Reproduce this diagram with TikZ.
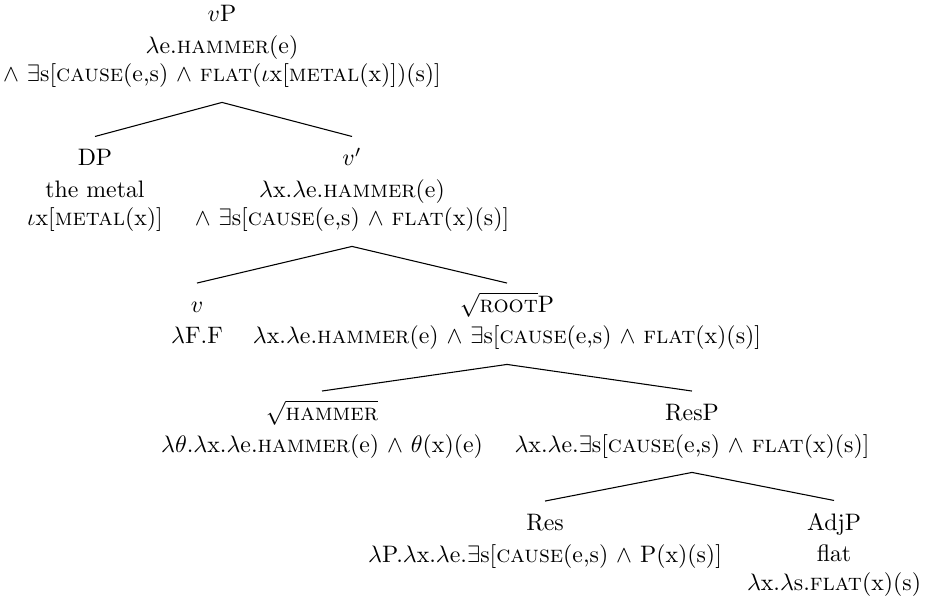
\documentclass[tikz,border=0pt]{standalone}
\usepackage{fontspec}
\usetikzlibrary{calc}
\newcommand{\lsc}[1]{\textsc{#1}}
% uniform height for the category line of every tree node
\newcommand{\cat}[1]{\vphantom{$\sqrt{\lsc{root}}$}#1}
\tikzset{
  tn/.style={anchor=base, align=center, inner sep=0pt, font=\fontsize{10}{12}\selectfont},
  branch/.style={line width=0.45pt},
}
\begin{document}
\begin{tikzpicture}[x=0.42pt,y=0.42pt]
\useasboundingbox (0,0) rectangle (927,-609);
% tree nodes: category label followed by its denotation (anchored on the last line)
\node[tn] (root) at (222,-82) {\cat{$v$P}\\[1.2pt] $\lambda$e.\lsc{hammer}(e)\\ $\wedge$ $\exists$s[\lsc{cause}(e,s) $\wedge$ \lsc{flat}($\iota$x[\lsc{metal}(x)])(s)]};
\node[tn] (dp) at (95,-226) {\cat{DP}\\[1.2pt] the metal\\ $\iota$x[\lsc{metal}(x)]};
\node[tn] (vbar) at (352,-226) {\cat{$v'$}\\[1.2pt] $\lambda$x.$\lambda$e.\lsc{hammer}(e)\\ $\wedge$ $\exists$s[\lsc{cause}(e,s) $\wedge$ \lsc{flat}(x)(s)]};
\node[tn] (v) at (197,-344) {\cat{$v$}\\[1.2pt] $\lambda$F.F};
\node[tn] (rootp) at (507,-344) {\cat{$\sqrt{\lsc{root}}$P}\\[1.2pt] $\lambda$x.$\lambda$e.\lsc{hammer}(e) $\wedge$ $\exists$s[\lsc{cause}(e,s) $\wedge$ \lsc{flat}(x)(s)]};
\node[tn] (hammer) at (322,-452) {\cat{$\sqrt{\lsc{hammer}}$}\\[1.2pt] $\lambda\theta$.$\lambda$x.$\lambda$e.\lsc{hammer}(e) $\wedge$ $\theta$(x)(e)};
\node[tn] (resp) at (692,-452) {\cat{ResP}\\[1.2pt] $\lambda$x.$\lambda$e.$\exists$s[\lsc{cause}(e,s) $\wedge$ \lsc{flat}(x)(s)]};
\node[tn] (res) at (545,-562) {\cat{Res}\\[1.2pt] $\lambda$P.$\lambda$x.$\lambda$e.$\exists$s[\lsc{cause}(e,s) $\wedge$ P(x)(s)]};
\node[tn] (adjp) at (834,-590) {\cat{AdjP}\\[1.2pt] flat\\ $\lambda$x.$\lambda$s.\lsc{flat}(x)(s)};
% branches
\foreach \p/\c in {root/dp, root/vbar, vbar/v, vbar/rootp, rootp/hammer, rootp/resp, resp/res, resp/adjp}
  \draw[branch] ($(\p.south)+(0,-14)$) -- ($(\c.north)+(0,9)$);
\end{tikzpicture}
\end{document}
